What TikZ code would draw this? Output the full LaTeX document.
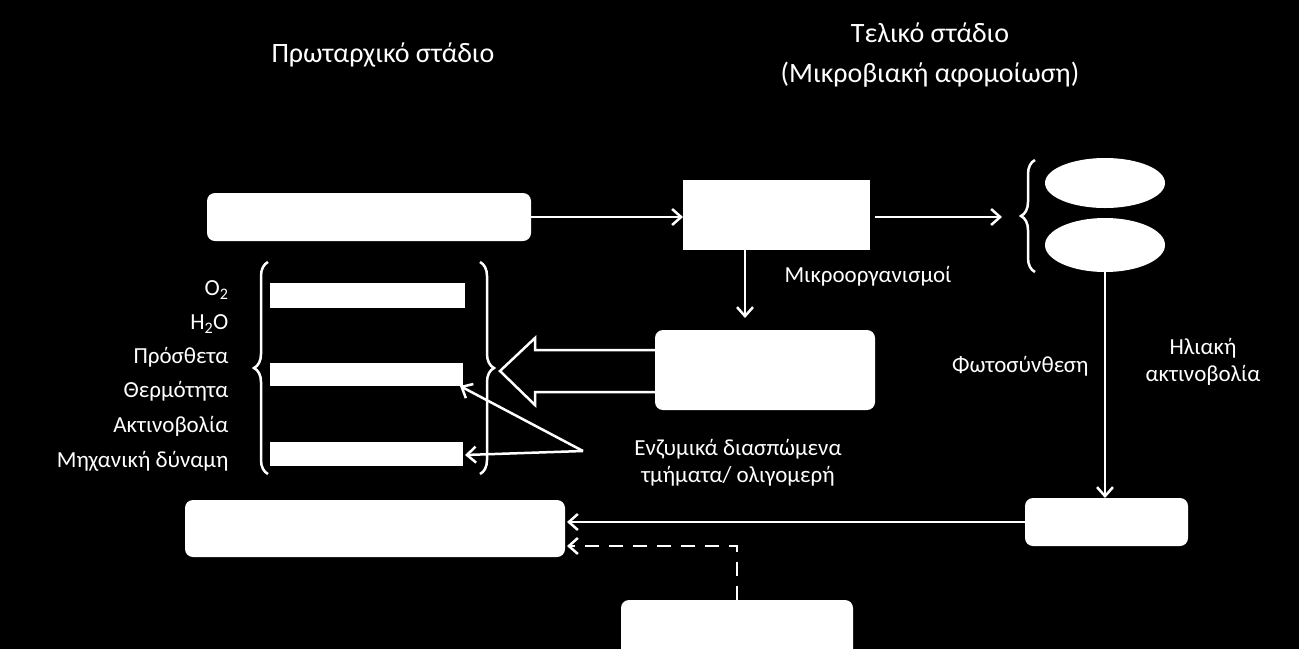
\documentclass[tikz,border=0pt]{standalone}
\usepackage{fontspec}
\setmainfont{Carlito}
\usetikzlibrary{arrows.meta,shapes.geometric,decorations.pathreplacing}
\begin{document}
\begin{tikzpicture}[x=1pt,y=-1pt,
  wbox/.style={fill=white,draw=none,rounded corners=8pt},
  wline/.style={draw=white,line width=2.5pt},
  arr/.style={wline,-{Straight Barb[length=9pt,width=16pt,line width=2.5pt]}},
  big/.style={text=white,font=\fontsize{28}{32}\selectfont},
  lab/.style={text=white,font=\fontsize{23}{27}\selectfont},
  brc/.style={draw=white,line width=2.5pt,decorate,decoration={brace,amplitude=14pt}}]
\useasboundingbox[fill=black] (0,0) rectangle (1299,649);
\node[big] (t1) at (383,55) {Πρωταρχικό στάδιο};
\node[big] (t2) at (930,33) {Τελικό στάδιο};
\node[big] (t3) at (930,75) {(Μικροβιακή αφομοίωση)};
\path[wbox] (207,193) rectangle (531,241);
\coordinate (A) at (531,217);
\fill[white] (683,180) rectangle (870,250);
\coordinate (Bl) at (683,217);
\coordinate (Br) at (875,217);
\coordinate (Bb) at (745,250);
\draw[arr] (A) -- (Bl);
\coordinate (br1) at (1002,217);
\draw[arr] (Br) -- (br1);
\draw[brc] (1035,272) -- (1035,160);
\node[ellipse,fill=white,minimum width=120pt,minimum height=50pt] (e1) at (1105,183) {};
\node[ellipse,fill=white,minimum width=120pt,minimum height=54pt] (e2) at (1105,245) {};
\coordinate (C) at (745,318);
\draw[arr] (Bb) -- (C);
\node[lab] (mk) at (868,276) {Μικροοργανισμοί};
\path[wbox] (655,330) rectangle (875,410);
\draw[white,line width=2.5pt,line join=miter] (655,350) -- (535,350) -- (535,338) -- (500,371) -- (535,405) -- (535,392) -- (655,392);
\draw[brc] (268,474) -- (268,262);
\draw[brc] (480,262) -- (480,474);
\fill[white] (270,283) rectangle (465,308);
\fill[white] (270,363) rectangle (463,386);
\fill[white] (270,442) rectangle (463,466);
\coordinate (b2) at (460,386);
\coordinate (b3) at (465,455);
\foreach \t/\y [count=\i] in {O\textsubscript{2}/290,H\textsubscript{2}O/324,Πρόσθετα/357,Θερμότητα/391,Ακτινοβολία/426,Μηχανική δύναμη/461}
  \node[lab,anchor=east] (L\i) at (232,\y) {\t};
\node[lab,align=center] (enz) at (738,463) {Ενζυμικά διασπώμενα\\τμήματα/ ολιγομερή};
\coordinate (ez) at (583,451);
\draw[arr] (ez) -- (b2);
\draw[arr] (ez) -- (b3);
\coordinate (e2b) at (1105,272);
\coordinate (Dt) at (1105,498);
\draw[arr] (e2b) -- (Dt);
\node[lab,anchor=east] (ph) at (1092,366) {Φωτοσύνθεση};
\node[lab,align=center] (hl) at (1203,362) {Ηλιακή\\ακτινοβολία};
\path[wbox] (1025,498) rectangle (1188,546);
\path[wbox] (185,500) rectangle (565,557);
\coordinate (Dl) at (1025,522);
\coordinate (El) at (567,522);
\draw[arr] (Dl) -- (El);
\path[wbox] (621,600) rectangle (853,660);
\coordinate (Ft) at (737,600);
\coordinate (El2) at (567,546);
\draw[arr,dashed,dash pattern=on 14pt off 10pt] (Ft) -- (737,546) -- (El2);
\end{tikzpicture}
\end{document}
